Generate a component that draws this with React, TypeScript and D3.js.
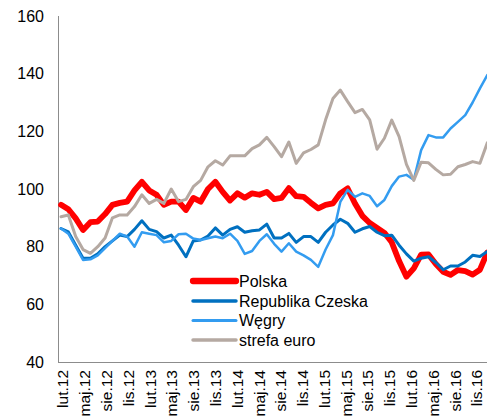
import * as d3 from 'd3';

// monthly index values, lut.12 .. gru.16
const monthNames = ['sty', 'lut', 'mar', 'kwi', 'maj', 'cze', 'lip', 'sie', 'wrz', 'paź', 'lis', 'gru'];
const startYear = 12;
const startMonth = 1; // lut

const polska = [
  94.5, 93, 89.8, 85.8, 88.5, 88.7, 91.3, 94.5, 95.2, 95.6, 99.5, 102.5, 99.5, 98, 94.5, 95.6, 95.6, 92.7, 96.9, 95.6,
  100, 102.5, 99, 96, 98.5, 97, 98.5, 98, 99, 96.5, 96.9, 100.3, 97.5, 97.3, 95.2, 93.3, 94.5, 95, 98.5, 100.2,
  95, 90.7, 88.2, 86.5, 84.8, 81.5, 75, 69.6, 72.5, 77.2, 77.3, 74, 71.3, 70.2, 71.9, 71.5, 70.3, 72, 78,
];
const czechy = [
  86.3, 85.1, 80.5, 76, 76, 77.5, 80, 82, 84, 83.5, 86, 89, 86, 85.2, 83, 84, 80.5, 76.5, 82, 82.3,
  83.7, 86.5, 84, 86, 86.9, 85, 85.5, 85.8, 87.8, 83, 83, 84.6, 81.5, 83.5, 83.5, 81.5, 85, 87.5, 89.5, 88.1,
  85, 86.2, 87, 85, 83.8, 84, 80.5, 77.5, 75, 76, 76.5, 74.5, 72, 73.3, 73.3, 74.7, 77, 76.6, 78.3,
];
const wegry = [
  86.3, 84.5, 80, 75.4, 75.6, 77, 79.5, 82, 84.5, 83.5, 80, 85, 84.5, 84, 81.5, 82, 84.3, 84.5, 82.8, 82.3,
  82.9, 83.5, 82.9, 84.5, 82, 77.5, 78.5, 82, 84.3, 81, 78.3, 81.2, 78.3, 77, 75.4, 73, 79, 84, 95.5, 99.7,
  97.3, 98.5, 97.6, 94, 96.2, 101, 104.3, 104.9, 103.2, 113.5, 118.7, 117.9, 117.9, 121, 123.3, 125.6, 130, 134.9, 139.5,
];
const strefaEuro = [
  90.4, 91, 83.5, 79, 77.7, 80, 83, 90, 91, 91, 93.9, 98, 95, 96.4, 95, 100, 95.6, 96.4, 100.8, 103,
  107.7, 109.8, 108.3, 111.5, 111.5, 111.5, 114, 115.3, 117.9, 114.7, 111.2, 116.3, 108.9, 112.5, 113.7, 115.3, 124, 131.4, 134.3, 130.3,
  126.5, 127.6, 124, 113.8, 117.6, 123.9, 118.2, 108.5, 103, 109.3, 109.1, 106.8, 104.9, 105.1, 107.7, 108.5, 109.5, 108.9, 116,
];

const seriesNames = ['Polska', 'Republika Czeska', 'Węgry', 'strefa euro'];
const seriesColors = ['#ff0000', '#0070c0', '#339cf0', '#b5a9a2'];
const seriesWidths = [5.8, 3, 2.5, 3];
const yTicks = [40, 60, 80, 100, 120, 140, 160];

const months = polska.map((_, i) => {
  const m = startMonth + i;
  return `${monthNames[m % 12]}.${startYear + Math.floor(m / 12)}`;
});

const W = 487;
const H = 416;
const font = '"Liberation Sans", Arial, sans-serif';

export default function App() {
  const data = [polska, czechy, wegry, strefaEuro];
  const x = d3.scaleLinear().domain([0, polska.length - 1]).range([61, 487.3]);
  // category labels sit on a slightly tighter grid in the original
  const xLabel = d3.scaleLinear().domain([0, 57]).range([63, 477]);
  const y = d3.scaleLinear().domain([40, 160]).range([362, 16]);
  const line = d3
    .line<number>()
    .x((_, i) => x(i))
    .y((d) => y(d));

  const legendY = [281, 301, 320.5, 340];

  return (
    <svg width={W} height={H} style={{ position: 'absolute', left: 0, top: 0, fontFamily: font }}>
      <rect width={W} height={H} fill="#fff" />
      {/* axes */}
      <line x1={58.5} x2={58.5} y1={16} y2={362} stroke="#8c8c8c" strokeWidth={1} />
      <line x1={58} x2={W} y1={362.5} y2={362.5} stroke="#8c8c8c" strokeWidth={1} />
      {yTicks.map((t) => (
        <text key={t} x={44} y={y(t)} dy="0.35em" textAnchor="end" fontSize={16} fill="#000">
          {t}
        </text>
      ))}
      {months.map((m, i) =>
        i % 3 === 0 ? (
          <text
            key={m}
            transform={`translate(${xLabel(i)},370) rotate(-90)`}
            dy="0.35em"
            textAnchor="end"
            fontSize={15.5}
            fill="#000"
          >
            {m}
          </text>
        ) : null,
      )}
      {/* series */}
      {data.map((s, k) => (
        <path
          key={seriesNames[k]}
          d={line(s) ?? ''}
          fill="none"
          stroke={seriesColors[k]}
          strokeWidth={seriesWidths[k]}
          strokeLinejoin="round"
          strokeLinecap="round"
        />
      ))}
      {/* legend */}
      {seriesNames.map((n, k) => (
        <g key={n}>
          <line
            x1={193}
            x2={236}
            y1={legendY[k]}
            y2={legendY[k]}
            stroke={seriesColors[k]}
            strokeWidth={seriesWidths[k] + 0.5}
            strokeLinecap="round"
          />
          <text x={239} y={legendY[k]} dy="0.35em" fontSize={16} fill="#000">
            {n}
          </text>
        </g>
      ))}
    </svg>
  );
}
